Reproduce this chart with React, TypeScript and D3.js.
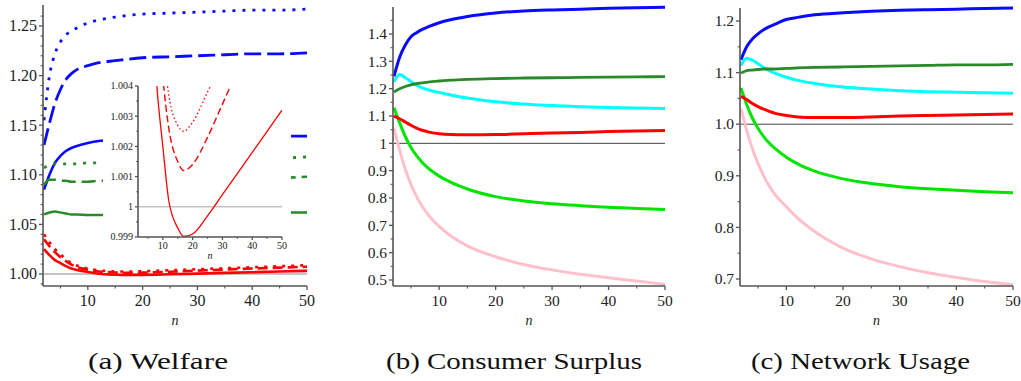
import React from "react";
import * as d3 from "d3";

// ---------- data ----------
const N = [2, 3, 4, 5, 6, 7, 8, 10, 12, 15, 20, 25, 30, 35, 40, 45, 50];
const N_RED = [2, 3, 4, 5, 6, 7, 8, 10, 12, 15, 17, 20, 25, 30, 35, 40, 45, 50];

// (a) Welfare
const welfareBlueDot = [1.155, 1.2, 1.222, 1.234, 1.241, 1.245, 1.248, 1.253, 1.256, 1.259, 1.262, 1.263, 1.264, 1.265, 1.266, 1.266, 1.267];
const welfareBlueDash = [1.13, 1.152, 1.172, 1.186, 1.196, 1.202, 1.206, 1.21, 1.213, 1.215, 1.218, 1.219, 1.22, 1.221, 1.222, 1.222, 1.223];
const welfareBlueSolid = [1.085, 1.1, 1.112, 1.119, 1.124, 1.127, 1.129, 1.132, 1.134, 1.135, 1.136, 1.137, 1.137, 1.138, 1.138, 1.139, 1.139];
const welfareGreenDot = [1.107, 1.11, 1.111, 1.111, 1.111, 1.111, 1.111, 1.112, 1.112, 1.113, 1.114, 1.115, 1.116, 1.116, 1.117, 1.117, 1.118];
const welfareGreenDash = [1.09, 1.095, 1.095, 1.094, 1.094, 1.093, 1.093, 1.093, 1.094, 1.094, 1.095, 1.095, 1.096, 1.096, 1.097, 1.097, 1.098];
const welfareGreenSolid = [1.06, 1.062, 1.063, 1.062, 1.061, 1.06, 1.06, 1.0595, 1.0595, 1.06, 1.06, 1.0605, 1.061, 1.061, 1.0615, 1.062, 1.062];
const welfareRedSolid = [1.025, 1.019, 1.014, 1.011, 1.008, 1.0055, 1.004, 1.002, 1.0002, 0.9993, 0.99902, 0.9991, 0.9997, 1.0004, 1.0011, 1.0018, 1.0025, 1.0032];
const welfareRedDash = [1.035, 1.028, 1.022, 1.017, 1.013, 1.0095, 1.007, 1.0043, 1.0026, 1.0015, 1.0012, 1.0014, 1.0023, 1.0034, 1.0045, 1.0055, 1.0064, 1.0073];
const welfareRedDot = [1.04, 1.032, 1.025, 1.02, 1.015, 1.011, 1.0085, 1.0055, 1.0037, 1.0027, 1.0025, 1.0028, 1.0038, 1.0048, 1.0058, 1.0068, 1.0078, 1.0088];

// (b) Consumer Surplus
const csBlue = [1.245, 1.315, 1.36, 1.39, 1.405, 1.417, 1.426, 1.441, 1.452, 1.464, 1.477, 1.484, 1.488, 1.491, 1.494, 1.496, 1.498];
const csCyan = [1.225, 1.252, 1.24, 1.226, 1.213, 1.203, 1.196, 1.186, 1.177, 1.166, 1.152, 1.144, 1.138, 1.134, 1.131, 1.129, 1.127];
const csDarkGreen = [1.188, 1.2, 1.208, 1.214, 1.218, 1.221, 1.224, 1.228, 1.231, 1.234, 1.237, 1.239, 1.24, 1.241, 1.242, 1.243, 1.244];
const csRed = [1.1, 1.09, 1.078, 1.066, 1.056, 1.048, 1.042, 1.035, 1.032, 1.031, 1.032, 1.035, 1.038, 1.04, 1.043, 1.045, 1.047];
const csLime = [1.13, 1.075, 1.025, 0.985, 0.955, 0.93, 0.91, 0.88, 0.858, 0.833, 0.805, 0.789, 0.779, 0.772, 0.766, 0.762, 0.758];
const csPink = [1.055, 0.975, 0.905, 0.85, 0.805, 0.77, 0.74, 0.696, 0.662, 0.625, 0.585, 0.557, 0.537, 0.521, 0.508, 0.496, 0.484];

// (c) Network Usage
const nuBlue = [1.125, 1.15, 1.165, 1.175, 1.183, 1.189, 1.194, 1.203, 1.207, 1.212, 1.216, 1.219, 1.221, 1.222, 1.223, 1.224, 1.225];
const nuCyan = [1.114, 1.128, 1.124, 1.117, 1.11, 1.104, 1.099, 1.091, 1.085, 1.079, 1.072, 1.068, 1.065, 1.063, 1.062, 1.061, 1.06];
const nuDarkGreen = [1.099, 1.104, 1.105, 1.106, 1.107, 1.107, 1.107, 1.108, 1.109, 1.11, 1.111, 1.112, 1.113, 1.114, 1.115, 1.115, 1.116];
const nuRed = [1.054, 1.048, 1.04, 1.034, 1.029, 1.025, 1.021, 1.017, 1.014, 1.013, 1.013, 1.014, 1.016, 1.017, 1.018, 1.019, 1.02];
const nuLime = [1.07, 1.038, 1.012, 0.992, 0.976, 0.963, 0.953, 0.936, 0.923, 0.909, 0.894, 0.885, 0.879, 0.875, 0.872, 0.869, 0.867];
const nuPink = [1.03, 0.988, 0.953, 0.924, 0.9, 0.88, 0.864, 0.84, 0.818, 0.792, 0.76, 0.739, 0.724, 0.712, 0.703, 0.695, 0.689];

// ticks
const xTicks = [10, 20, 30, 40, 50];
const xMinor = [5, 15, 25, 35, 45];
const welfareYTicks = [1.0, 1.05, 1.1, 1.15, 1.2, 1.25];
const welfareYLabels = ["1.00", "1.05", "1.10", "1.15", "1.20", "1.25"];
const csYTicks = [0.5, 0.6, 0.7, 0.8, 0.9, 1.0, 1.1, 1.2, 1.3, 1.4];
const csYLabels = ["0.5", "0.6", "0.7", "0.8", "0.9", "1", "1.1", "1.2", "1.3", "1.4"];
const nuYTicks = [0.7, 0.8, 0.9, 1.0, 1.1, 1.2];
const nuYLabels = ["0.7", "0.8", "0.9", "1.0", "1.1", "1.2"];
const insetYTicks = [0.999, 1.0, 1.001, 1.002, 1.003, 1.004];
const insetYLabels = ["0.999", "1", "1.001", "1.002", "1.003", "1.004"];
const captions = ["(a) Welfare", "(b) Consumer Surplus", "(c) Network Usage"];

const BLUE = "#0a0aff";
const DGREEN = "#2a8a2a";
const RED = "#ff0000";
const CYAN = "#00ffff";
const LIME = "#00e400";
const PINK = "#ffc0cb";
const AXIS = "#555";
const TXT = "#222";

type Sc = d3.ScaleLinear<number, number>;

function Curve({ xs, ys, x, y, color, width, dash, clip }: { xs: number[]; ys: number[]; x: Sc; y: Sc; color: string; width: number; dash?: string; clip?: string }) {
  const line = d3
    .line<number>()
    .x((_, i) => x(xs[i]))
    .y((v) => y(v))
    .curve(d3.curveMonotoneX);
  return (
    <path
      d={line(ys) || ""}
      fill="none"
      stroke={color}
      strokeWidth={width}
      strokeDasharray={dash}
      strokeLinejoin="round"
      clipPath={clip}
    />
  );
}

function Axes({
  x, y, yTicks, yLabels, yMinor, yTop, yBottom, fs, xLabelY, nLabelY, nFs, tickLen = 4,
}: {
  x: Sc; y: Sc; yTicks: number[]; yLabels: string[]; yMinor: number[]; yTop: number; yBottom: number; fs: number; xLabelY: number; nLabelY: number; nFs: number; tickLen?: number;
}) {
  const x0 = x(2) - 1;
  const x1 = x(50);
  return (
    <g>
      <line x1={x0} x2={x0} y1={yTop} y2={yBottom} stroke={AXIS} strokeWidth={1.6} />
      <line x1={x0} x2={x1} y1={yBottom} y2={yBottom} stroke={AXIS} strokeWidth={1.6} />
      {yTicks.map((t, i) => (
        <line key={"yt" + i} x1={x0 - tickLen} x2={x0} y1={y(t)} y2={y(t)} stroke={AXIS} strokeWidth={1.3} />
      ))}
      {yTicks.map((t, i) => (
        <text key={"yl" + i} x={x0 - tickLen - 2} y={y(t) + fs * 0.34} textAnchor="end" fontSize={fs} fill={TXT}>
          {yLabels[i]}
        </text>
      ))}
      {yMinor.map((t, i) => (
        <line key={"ym" + i} x1={x0 - tickLen * 0.6} x2={x0} y1={y(t)} y2={y(t)} stroke={AXIS} strokeWidth={1.1} />
      ))}
      {xTicks.map((t, i) => (
        <line key={"xt" + i} x1={x(t)} x2={x(t)} y1={yBottom} y2={yBottom + tickLen} stroke={AXIS} strokeWidth={1.3} />
      ))}
      {xTicks.map((t, i) => (
        <text key={"xl" + i} x={x(t)} y={xLabelY} textAnchor="middle" fontSize={fs} fill={TXT}>
          {String(t)}
        </text>
      ))}
      {xMinor.map((t, i) => (
        <line key={"xm" + i} x1={x(t)} x2={x(t)} y1={yBottom} y2={yBottom + tickLen * 0.6} stroke={AXIS} strokeWidth={1.1} />
      ))}
      <text x={(x0 + x1) / 2} y={nLabelY} textAnchor="middle" fontSize={nFs} fontStyle="italic" fill={TXT}>
        n
      </text>
    </g>
  );
}

export default function App() {
  // Panel (a)
  const xa = d3.scaleLinear().domain([2, 50]).range([44, 307]);
  const ya = d3.scaleLinear().domain([1.0, 1.25]).range([274, 26]);
  const yaMinor = d3.range(0, 28).map((i) => 0.99 + i * 0.01).filter((v) => Math.abs(Math.round(v * 20) - v * 20) > 1e-6 && v < 1.27);
  // inset
  const xi = d3.scaleLinear().domain([2, 50]).range([139, 282]);
  const yi = d3.scaleLinear().domain([0.999, 1.004]).range([237, 86]);
  const yiMinor = [0.9995, 1.0005, 1.0015, 1.0025, 1.0035];
  // Panel (b)
  const xb = d3.scaleLinear().domain([2, 50]).range([394, 665]);
  const yb = d3.scaleLinear().domain([0.5, 1.4]).range([280, 34]);
  const ybMinor = [0.55, 0.65, 0.75, 0.85, 0.95, 1.05, 1.15, 1.25, 1.35, 1.45];
  // Panel (c)
  const xc = d3.scaleLinear().domain([2, 50]).range([741, 1013]);
  const yc = d3.scaleLinear().domain([0.7, 1.2]).range([279, 21]);
  const ycMinor = [0.75, 0.85, 0.95, 1.05, 1.15];

  const capX = [88, 386, 751];
  const capW = [140, 256, 219];

  return (
    <svg width={1021} height={381} style={{ position: "absolute", left: 0, top: 0, background: "#fff" }}>
      <defs>
        <clipPath id="insetClip">
          <rect x={139} y={86} width={143} height={151} />
        </clipPath>
      </defs>
      {/* ---------- Panel (a) ---------- */}
      <line x1={xa(2)} x2={xa(50)} y1={ya(1)} y2={ya(1)} stroke="#c4c4c4" strokeWidth={2} />
      <Curve xs={N} ys={welfareBlueDot} x={xa} y={ya} color={BLUE} width={2.8} dash="3,7" />
      <Curve xs={N} ys={welfareBlueDash} x={xa} y={ya} color={BLUE} width={2.8} dash="17,6" />
      <Curve xs={N} ys={welfareBlueSolid} x={xa} y={ya} color={BLUE} width={2.6} />
      <Curve xs={N} ys={welfareGreenDot} x={xa} y={ya} color={DGREEN} width={2.8} dash="3,7" />
      <Curve xs={N} ys={welfareGreenDash} x={xa} y={ya} color={DGREEN} width={2.6} dash="14,6" />
      <Curve xs={N} ys={welfareGreenSolid} x={xa} y={ya} color={DGREEN} width={2.4} />
      <Curve xs={N_RED} ys={welfareRedDot} x={xa} y={ya} color={RED} width={2.6} dash="3,6" />
      <Curve xs={N_RED} ys={welfareRedDash} x={xa} y={ya} color={RED} width={2.6} dash="10,5" />
      <Curve xs={N_RED} ys={welfareRedSolid} x={xa} y={ya} color={RED} width={2.6} />
      <Axes x={xa} y={ya} yTicks={welfareYTicks} yLabels={welfareYLabels} yMinor={yaMinor} yTop={5} yBottom={286} fs={16} xLabelY={306} nLabelY={325} nFs={14} />

      {/* inset */}
      <rect x={103} y={76} width={188} height={186} fill="#fff" />
      <line x1={xi(2)} x2={xi(50)} y1={yi(1)} y2={yi(1)} stroke="#c4c4c4" strokeWidth={1.5} />
      <Curve xs={N_RED} ys={welfareRedDot} x={xi} y={yi} color={RED} width={1.3} dash="1.5,2.5" clip="url(#insetClip)" />
      <Curve xs={N_RED} ys={welfareRedDash} x={xi} y={yi} color={RED} width={1.4} dash="7,3.5" clip="url(#insetClip)" />
      <Curve xs={N_RED} ys={welfareRedSolid} x={xi} y={yi} color={RED} width={1.3} clip="url(#insetClip)" />
      <Axes x={xi} y={yi} yTicks={insetYTicks} yLabels={insetYLabels} yMinor={yiMinor} yTop={86} yBottom={237} fs={10} xLabelY={249} nLabelY={259} nFs={10} tickLen={3} />

      {/* ---------- Panel (b) ---------- */}
      <line x1={xb(2)} x2={xb(50)} y1={yb(1)} y2={yb(1)} stroke="#444" strokeWidth={1} />
      <Curve xs={N} ys={csPink} x={xb} y={yb} color={PINK} width={3} />
      <Curve xs={N} ys={csLime} x={xb} y={yb} color={LIME} width={3} />
      <Curve xs={N} ys={csRed} x={xb} y={yb} color={RED} width={3} />
      <Curve xs={N} ys={csCyan} x={xb} y={yb} color={CYAN} width={3} />
      <Curve xs={N} ys={csDarkGreen} x={xb} y={yb} color={DGREEN} width={2.8} />
      <Curve xs={N} ys={csBlue} x={xb} y={yb} color={BLUE} width={3} />
      <Axes x={xb} y={yb} yTicks={csYTicks} yLabels={csYLabels} yMinor={ybMinor} yTop={7} yBottom={286} fs={15.5} xLabelY={306} nLabelY={325} nFs={14} />

      {/* ---------- Panel (c) ---------- */}
      <line x1={xc(2)} x2={xc(50)} y1={yc(1)} y2={yc(1)} stroke="#444" strokeWidth={1} />
      <Curve xs={N} ys={nuPink} x={xc} y={yc} color={PINK} width={3} />
      <Curve xs={N} ys={nuLime} x={xc} y={yc} color={LIME} width={3} />
      <Curve xs={N} ys={nuRed} x={xc} y={yc} color={RED} width={3} />
      <Curve xs={N} ys={nuCyan} x={xc} y={yc} color={CYAN} width={3} />
      <Curve xs={N} ys={nuDarkGreen} x={xc} y={yc} color={DGREEN} width={2.8} />
      <Curve xs={N} ys={nuBlue} x={xc} y={yc} color={BLUE} width={3} />
      <Axes x={xc} y={yc} yTicks={nuYTicks} yLabels={nuYLabels} yMinor={ycMinor} yTop={8} yBottom={286} fs={15.5} xLabelY={306} nLabelY={325} nFs={14} />

      {/* captions */}
      {captions.map((c, i) => (
        <text key={c} x={capX[i]} y={369} fontSize={23} fill="#111" textLength={capW[i]} lengthAdjust="spacingAndGlyphs">
          {c}
        </text>
      ))}
    </svg>
  );
}
